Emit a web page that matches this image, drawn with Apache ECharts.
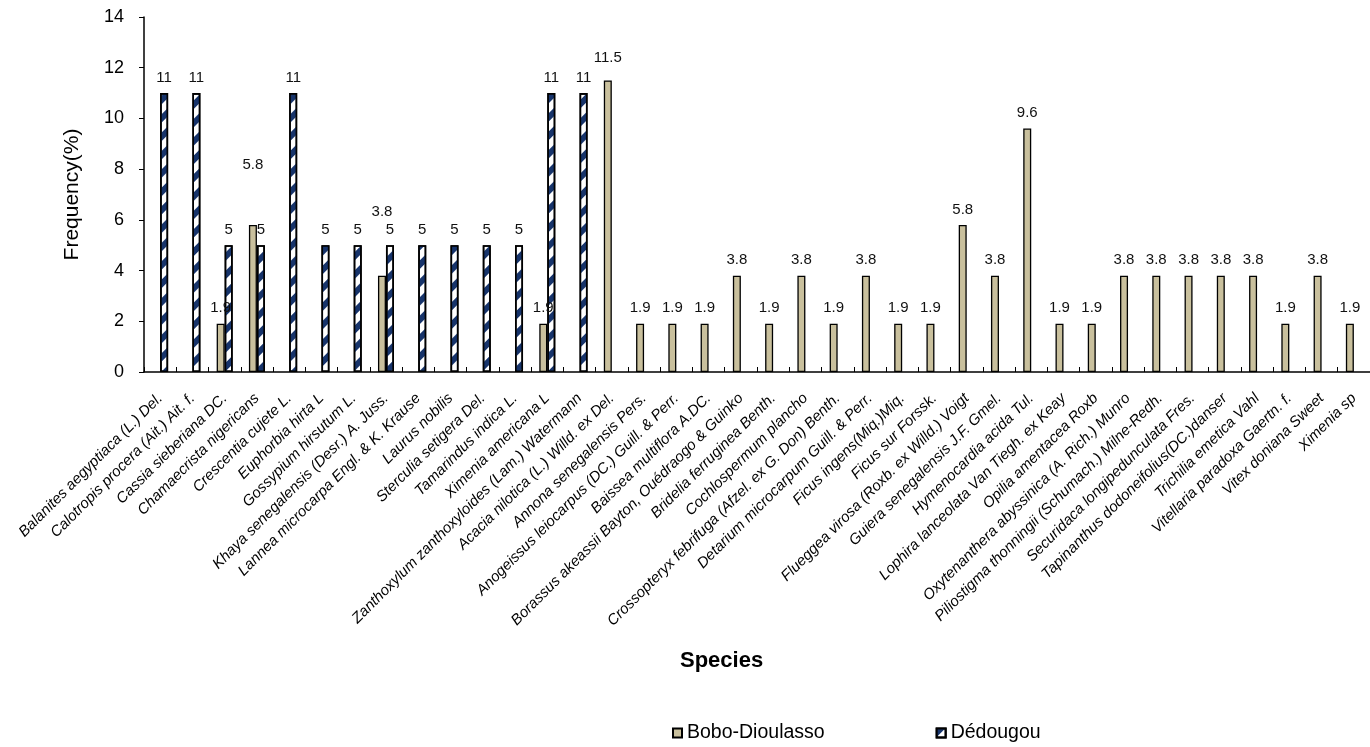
<!DOCTYPE html>
<html>
<head>
<meta charset="utf-8">
<script src="https://cdn.jsdelivr.net/npm/echarts@6/dist/echarts.min.js"></script>
<style>
html,body{margin:0;padding:0;background:#fff;}
#chart{width:1370px;height:747px;}
</style>
</head>
<body>
<div id="chart"></div>
<script>
const species = [
  "Balanites aegyptiaca (L.) Del.",
  "Calotropis procera (Ait.) Ait. f.",
  "Cassia sieberiana DC.",
  "Chamaecrista nigericans",
  "Crescentia cujete L.",
  "Euphorbia hirta L",
  "Gossypium hirsutum L.",
  "Khaya senegalensis (Desr.) A. Juss.",
  "Lannea microcarpa Engl. & K. Krause",
  "Laurus nobilis",
  "Sterculia setigera Del.",
  "Tamarindus indica L.",
  "Ximenia americana L",
  "Zanthoxylum zanthoxyloides (Lam.) Watermann",
  "Acacia nilotica (L.) Willd. ex Del.",
  "Annona senegalensis Pers.",
  "Anogeissus leiocarpus (DC.) Guill. & Perr.",
  "Baissea multiflora A.DC.",
  "Borassus akeassii Bayton, Ouédraogo & Guinko",
  "Bridelia ferruginea Benth.",
  "Cochlospermum plancho",
  "Crossopteryx febrifuga (Afzel. ex G. Don) Benth.",
  "Detarium microcarpum Guill. & Perr.",
  "Ficus ingens(Miq.)Miq.",
  "Ficus sur Forssk.",
  "Flueggea virosa (Roxb. ex Willd.) Voigt",
  "Guiera senegalensis J.F. Gmel.",
  "Hymenocardia acida Tul.",
  "Lophira lanceolata Van Tiegh. ex Keay",
  "Opilia amentacea Roxb",
  "Oxytenanthera abyssinica (A. Rich.) Munro",
  "Piliostigma thonningii (Schumach.) Milne-Redh.",
  "Securidaca longipedunculata Fres.",
  "Tapinanthus dodoneifolius(DC.)danser",
  "Trichilia emetica Vahl",
  "Vitellaria paradoxa Gaertn. f.",
  "Vitex doniana Sweet",
  "Ximenia sp"
];
const boboDioulasso = [null,null,1.9,5.8,null,null,null,3.8,null,null,null,null,1.9,null,
  11.5,1.9,1.9,1.9,3.8,1.9,3.8,1.9,3.8,1.9,1.9,5.8,3.8,9.6,1.9,1.9,3.8,3.8,3.8,3.8,3.8,1.9,3.8,1.9];
const dedougou = [11,11,5,5,11,5,5,5,5,5,5,5,11,11,
  null,null,null,null,null,null,null,null,null,null,null,null,null,null,null,null,null,null,null,null,null,null,null,null];
const yTicks = [0,2,4,6,8,10,12,14];
const seriesNames = ["Bobo-Dioulasso","Dédougou"];

// label nudges (style only): index -> extra vertical offset in px for Bobo-Dioulasso labels
const boboLabelNudge = {3:-45, 7:-48, 14:-7};

const TAN = '#C9C09D';
const NAVY = '#17346B';
const FONT = 'Arial, "Liberation Sans", sans-serif';

const boboData = boboDioulasso.map((v,i)=>{
  if (boboLabelNudge[i] !== undefined) {
    return {value:v, label:{offset:[0, boboLabelNudge[i]]}};
  }
  return v;
});

const chart = echarts.init(document.getElementById('chart'), null, {renderer:'canvas'});
const labelCommon = {
  show:true, position:'top', distance:8,
  fontFamily:FONT, fontSize:15, color:'#111',
  formatter: p => (p.value == null ? '' : String(p.value))
};
chart.setOption({
  animation:false,
  backgroundColor:'#fff',
  grid:{left:144, top:17, width:1233, height:355, containLabel:false},
  legend:{
    data:seriesNames,
    left:672, top:723, padding:0,
    itemWidth:9, itemHeight:9, itemGap:111,
    icon:'rect',
    textStyle:{fontFamily:FONT, fontSize:19.5, color:'#000'}
  },
  graphic:[{
    type:'text', left:680, top:650,
    style:{text:'Species', font:'bold 22px Arial, "Liberation Sans", sans-serif', fill:'#000'}
  }],
  xAxis:{
    type:'category',
    data:species,
    axisLine:{lineStyle:{color:'#000', width:1.5}},
    axisTick:{show:true, inside:true, length:5, lineStyle:{color:'#000', width:1}},
    axisLabel:{
      interval:0, rotate:45, margin:24,
      fontFamily:FONT, fontSize:15, fontStyle:'italic', color:'#000'
    }
  },
  yAxis:{
    type:'value', min:0, max:14, interval:2,
    name:'Frequency(%)', nameLocation:'middle', nameGap:61, nameRotate:90,
    nameTextStyle:{fontFamily:FONT, fontSize:21, color:'#000'},
    axisLine:{show:true, lineStyle:{color:'#000', width:1.5}},
    axisTick:{show:true, inside:false, length:5, lineStyle:{color:'#000', width:1}},
    axisLabel:{
      margin:20, fontFamily:FONT, fontSize:18, color:'#000',
      formatter: v => (yTicks.indexOf(v) >= 0 ? String(v) : '')
    },
    splitLine:{show:false}
  },
  series:[
    {
      name:seriesNames[0], type:'bar', data:boboData,
      barWidth:8, barGap:'0%',
      itemStyle:{color:TAN, borderColor:'#000', borderWidth:1.3},
      label:labelCommon
    },
    {
      name:seriesNames[1], type:'bar', data:dedougou,
      barWidth:8, barGap:'0%',
      itemStyle:{
        color:'#fff', borderColor:'#000', borderWidth:1.6,
        decal:{symbol:'rect', symbolSize:1, dashArrayX:[1,0], dashArrayY:[6,7], rotation:-Math.PI/4, color:NAVY}
      },
      label:labelCommon
    }
  ]
});
</script>
</body>
</html>
